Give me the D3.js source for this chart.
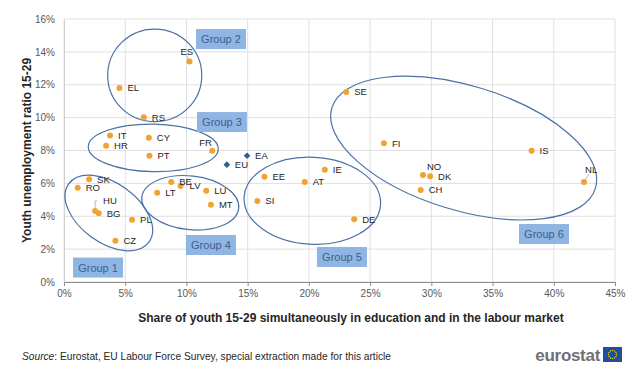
<!DOCTYPE html>
<html>
<head>
<meta charset="utf-8">
<script src="https://cdn.jsdelivr.net/npm/d3@7"></script>
<style>
  body { margin: 0; background: #fff; }
  svg text { font-family: "Liberation Sans", Arial, sans-serif; }
</style>
</head>
<body>
<svg id="chart"></svg>
<script>
const width = 636;
const height = 369;

// countries (orange dots)
const countries = ["ES", "EL", "RS", "IT", "HR", "CY", "PT", "FR", "SK", "RO", "HU", "BG", "PL", "CZ",
  "BE", "LV", "LT", "LU", "MT", "EE", "SI", "AT", "IE", "DE", "SE", "FI", "NO", "DK", "CH", "IS", "NL"];
// share of youth in education and labour market (%)
const eduWork = [10.25, 4.53, 6.52, 3.76, 3.44, 6.93, 6.98, 12.11, 2.05, 1.12, 2.54, 2.84, 5.56, 4.2,
  8.76, 9.52, 7.61, 11.62, 12.0, 16.37, 15.79, 19.66, 21.3, 23.7, 23.05, 26.13, 29.32, 29.9, 29.13, 38.19, 42.47];
// youth unemployment ratio (%)
const unempRatio = [13.42, 11.8, 10.02, 8.92, 8.29, 8.78, 7.68, 7.99, 6.25, 5.74, 4.32, 4.18, 3.79, 2.51,
  6.08, 5.84, 5.43, 5.55, 4.7, 6.4, 4.93, 6.08, 6.83, 3.81, 11.56, 8.44, 6.51, 6.43, 5.6, 7.99, 6.08];

// aggregates (blue diamonds)
const aggregates = ["EU", "EA"];
const aggEduWork = [13.3, 14.95];
const aggUnemp = [7.14, 7.68];

const xTicks = [0, 5, 10, 15, 20, 25, 30, 35, 40, 45];
const yTicks = [0, 2, 4, 6, 8, 10, 12, 14, 16];

// group annotations: centre in data units, semi axes in x-% units, rotation in degrees
const groupNames = ["Group 1", "Group 2", "Group 3", "Group 4", "Group 5", "Group 6"];
const groupCx = [3.66, 7.41, 7.29, 10.31, 20.28, 32.64];
const groupCy = [4.2, 12.57, 8.16, 4.82, 4.94, 8.15];
const groupA = [4.05, 3.84, 5.31, 3.98, 5.58, 11.25];
const groupB = [2.43, 3.78, 1.94, 2.19, 3.55, 5.08];
const groupRot = [36, 0, 1, 6.6, 3, 17];
const boxX = [2.78, 12.82, 12.9, 12.0, 22.7, 39.2];
const boxY = [0.88, 14.78, 9.73, 2.25, 1.52, 2.92];

// label placements that differ from the default (right of the dot)
const labelShift = {
  ES: [-9, -10, true], FR: [-13, -8], NO: [4, -8], NL: [1, -12, true], HU: [8, -10, true], LV: [9, 0]
};

const margin = { top: 19, right: 21, bottom: 87, left: 64 };

const x = d3.scaleLinear().domain([0, 45]).range([margin.left, width - margin.right]);
const y = d3.scaleLinear().domain([0, 16]).range([height - margin.bottom, margin.top]);
const pxPerX = x(1) - x(0);

const svg = d3.select("#chart").attr("width", width).attr("height", height);

// gridlines
svg.append("g")
  .selectAll("line")
  .data(yTicks)
  .join("line")
  .attr("x1", x(0)).attr("x2", x(45))
  .attr("y1", (d) => y(d)).attr("y2", (d) => y(d))
  .attr("stroke", "#e0e0e0");

svg.append("g")
  .selectAll("line")
  .data(xTicks)
  .join("line")
  .attr("x1", (d) => x(d)).attr("x2", (d) => x(d))
  .attr("y1", y(0)).attr("y2", y(16))
  .attr("stroke", "#e0e0e0");

// x axis
const xAxis = svg.append("g")
  .attr("transform", `translate(0, ${y(0)})`)
  .call(d3.axisBottom(x).tickValues(xTicks).tickFormat((d) => d + "%").tickSize(4).tickPadding(4));
xAxis.select(".domain").attr("stroke", "#8c8c8c");
xAxis.selectAll(".tick line").attr("stroke", "#8c8c8c");
xAxis.selectAll("text").attr("fill", "#595959").style("font-size", "10px");

// y axis
const yAxis = svg.append("g")
  .attr("transform", `translate(${x(0)}, 0)`)
  .call(d3.axisLeft(y).tickValues(yTicks).tickFormat((d) => d + "%").tickSize(0).tickPadding(9));
yAxis.select(".domain").attr("stroke", "#d0d0d0");
yAxis.selectAll("text").attr("fill", "#595959").style("font-size", "10px");

// axis titles
svg.append("text")
  .attr("x", 351)
  .attr("y", 322)
  .attr("text-anchor", "middle")
  .style("font-size", "12px")
  .style("font-weight", "bold")
  .attr("fill", "#262626")
  .text("Share of youth 15-29 simultaneously in education and in the labour market");

svg.append("text")
  .attr("transform", `translate(31, ${(y(0) + y(16)) / 2}) rotate(-90)`)
  .attr("text-anchor", "middle")
  .style("font-size", "12px")
  .style("font-weight", "bold")
  .attr("fill", "#262626")
  .text("Youth unemployment ratio 15-29");

// group ellipses
svg.append("g")
  .selectAll("ellipse")
  .data(groupNames)
  .join("ellipse")
  .attr("transform", (d, i) => `translate(${x(groupCx[i])}, ${y(groupCy[i])}) rotate(${groupRot[i]})`)
  .attr("rx", (d, i) => groupA[i] * pxPerX)
  .attr("ry", (d, i) => groupB[i] * pxPerX)
  .attr("fill", "none")
  .attr("stroke", "#4a72a6")
  .attr("stroke-width", 1.2);

// group boxes
const boxes = svg.append("g")
  .selectAll("g")
  .data(groupNames)
  .join("g")
  .attr("transform", (d, i) => `translate(${x(boxX[i])}, ${y(boxY[i])})`);

boxes.append("rect")
  .attr("x", -25).attr("y", -10)
  .attr("width", 50).attr("height", 20)
  .attr("fill", "#8fb5e3");

boxes.append("text")
  .attr("text-anchor", "middle")
  .attr("dy", "0.36em")
  .style("font-size", "11px")
  .attr("fill", "#3d5f8e")
  .text((d) => d);

// country points
const pts = countries.map((c, i) => ({ name: c, x: eduWork[i], y: unempRatio[i] }));

svg.append("g")
  .selectAll("circle")
  .data(pts)
  .join("circle")
  .attr("cx", (d) => x(d.x))
  .attr("cy", (d) => y(d.y))
  .attr("r", 3)
  .attr("fill", "#f2a230");

// leader lines
const leaders = pts.filter((d) => labelShift[d.name] && labelShift[d.name][2]);
svg.append("g")
  .selectAll("path")
  .data(leaders)
  .join("path")
  .attr("d", (d) => {
    const px = x(d.x), py = y(d.y);
    if (d.name === "HU") return `M${px + 2},${py - 10} H${px} V${py - 2}`;
    if (d.name === "ES") return `M${px - 3},${py - 6} L${px - 1},${py - 2}`;
    return `M${px + 5},${py - 8} L${px + 1},${py - 2}`;
  })
  .attr("fill", "none")
  .attr("stroke", "#a6a6a6")
  .attr("stroke-width", 0.8);

svg.append("g")
  .selectAll("text")
  .data(pts)
  .join("text")
  .attr("x", (d) => x(d.x) + (labelShift[d.name] ? labelShift[d.name][0] : 8))
  .attr("y", (d) => y(d.y) + (labelShift[d.name] ? labelShift[d.name][1] : 0))
  .attr("dy", "0.35em")
  .style("font-size", "9.5px")
  .attr("fill", "#262626")
  .text((d) => d.name);

// aggregates
const aggs = aggregates.map((c, i) => ({ name: c, x: aggEduWork[i], y: aggUnemp[i] }));

svg.append("g")
  .selectAll("path")
  .data(aggs)
  .join("path")
  .attr("d", d3.symbol(d3.symbolDiamond2, 28))
  .attr("transform", (d) => `translate(${x(d.x)}, ${y(d.y)})`)
  .attr("fill", "#2f5c9a");

svg.append("g")
  .selectAll("text")
  .data(aggs)
  .join("text")
  .attr("x", (d) => x(d.x) + 8)
  .attr("y", (d) => y(d.y))
  .attr("dy", "0.35em")
  .style("font-size", "9.5px")
  .attr("fill", "#262626")
  .text((d) => d.name);

// source note
const src = svg.append("text")
  .attr("x", 22)
  .attr("y", 360)
  .style("font-size", "10.2px")
  .attr("fill", "#262626");
src.append("tspan").style("font-style", "italic").text("Source");
src.append("tspan").text(": Eurostat, EU Labour Force Survey, special extraction made for this article");

// eurostat logo
svg.append("text")
  .attr("x", 600)
  .attr("y", 361)
  .attr("text-anchor", "end")
  .style("font-size", "17px")
  .style("font-weight", "bold")
  .attr("fill", "#707070")
  .style("letter-spacing", "-0.3px")
  .text("eurostat");

const flag = svg.append("g").attr("transform", "translate(603, 347)");
flag.append("rect").attr("width", 19).attr("height", 15).attr("fill", "#1d4f9e");
flag.selectAll("circle")
  .data(d3.range(12))
  .join("circle")
  .attr("cx", (d) => 9.5 + 4 * Math.cos((d * Math.PI) / 6))
  .attr("cy", (d) => 7.5 + 4 * Math.sin((d * Math.PI) / 6))
  .attr("r", 0.7)
  .attr("fill", "#f4d000");
</script>
</body>
</html>
